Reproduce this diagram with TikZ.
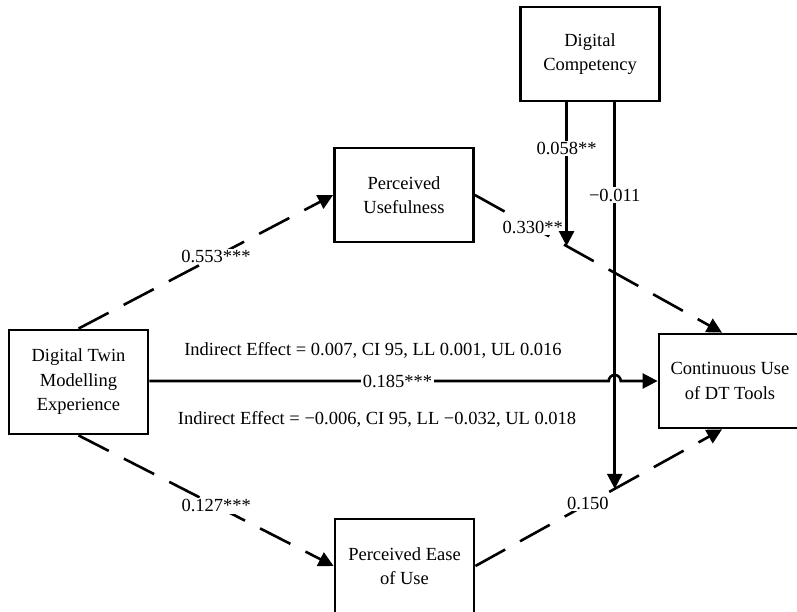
\documentclass[tikz,border=0pt]{standalone}
\usepackage{fontspec}
\setmainfont{Liberation Serif}
\usetikzlibrary{arrows.meta}
\begin{document}
\begin{tikzpicture}[x=1pt,y=-1pt,font=\fontsize{18.5}{24.5}\selectfont,
  box/.style={draw,line width=2.8pt,align=center,minimum width=139pt,minimum height=94pt,inner sep=0pt},
  link/.style={line width=2.6pt,-{Triangle[length=15pt,width=15pt]}},
  dlink/.style={link,dash pattern=on 34pt off 17pt},
  coef/.style={fill=white,inner sep=1.5pt}]
\useasboundingbox (0,0) rectangle (797,612);
\clip (0,0) rectangle (797,612);
\node[box] (dc) at (590,54) {Digital\\Competency};
\node[box] (pu) at (404,195) {Perceived\\Usefulness};
\node[box,minimum height=104pt] (dtme) at (78.5,382) {Digital Twin\\Modelling\\Experience};
\node[box,minimum width=142pt] (cu) at (730,381) {Continuous Use\\of DT Tools};
\node[box] (peu) at (404.5,566) {Perceived Ease\\of Use};
\node (ie1) at (373,350) {Indirect Effect = 0.007, CI 95, LL 0.001, UL 0.016};
\node (ie2) at (377,419) {Indirect Effect = −0.006, CI 95, LL −0.032, UL 0.018};
\draw[dlink] (dtme.north) -- node[coef,pos=0.54]{0.553***} (pu.west);
\draw[dlink] (dtme.south) -- node[coef,pos=0.54]{0.127***} (peu.west);
\draw[dlink] (pu.east) -- coordinate[pos=0.371] (m1) node[coef,pos=0.234]{0.330**} ([xshift=-8pt]cu.north);
\draw[dlink] (peu.east) -- coordinate[pos=0.565] (m2) node[coef,pos=0.456]{0.150} ([xshift=-8pt]cu.south);
\coordinate (hop) at (m2 |- cu.west);
\draw[link] (dtme.east |- cu.west) -- node[coef,pos=0.54]{0.185***} ([xshift=-6pt]hop)
  arc[start angle=180,end angle=0,radius=6pt] -- (cu.west);
\draw[link] (dc.south -| m1) -- node[coef,pos=0.32]{0.058**} (m1);
\draw[link] (dc.south -| m2) -- node[coef,pos=0.24]{−0.011} (m2);
\end{tikzpicture}
\end{document}
